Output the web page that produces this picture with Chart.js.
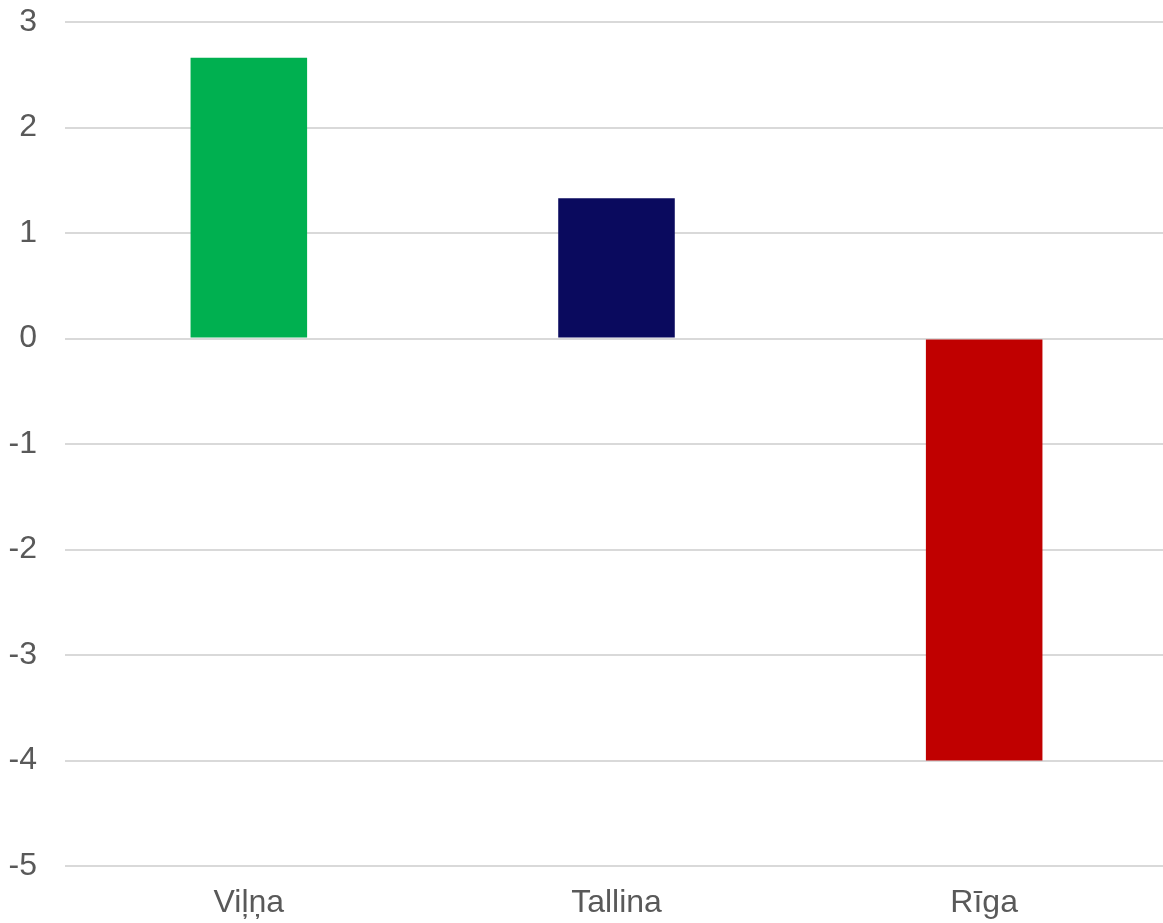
<!DOCTYPE html>
<html>
<head>
<meta charset="utf-8">
<script src="https://cdn.jsdelivr.net/npm/chart.js@4"></script>
<style>
    html, body { margin: 0; padding: 0; background: #ffffff; overflow: hidden; }
    #wrap { width: 1168px; height: 923px; }
</style>
</head>
<body>
<div id="wrap"><canvas id="chart"></canvas></div>
<script>
const categories = ["Viļņa", "Tallina", "Rīga"];
const values = [2.66, 1.33, -4.0];
const barColors = ["#00b050", "#0a0a5e", "#c00000"];
const yTicks = [3, 2, 1, 0, -1, -2, -3, -4, -5];

const ctx = document.getElementById("chart");

new Chart(ctx, {
    type: "bar",
    data: {
        labels: categories,
        datasets: [{
            data: values,
            backgroundColor: barColors,
            borderWidth: 0,
            categoryPercentage: 1,
            barPercentage: 0.317
        }]
    },
    options: {
        responsive: true,
        maintainAspectRatio: false,
        animation: false,
        layout: { padding: { top: 22, right: 0, bottom: 0, left: 0 } },
        plugins: {
            legend: { display: false },
            tooltip: { enabled: false }
        },
        scales: {
            x: {
                grid: { display: false },
                border: { display: false },
                ticks: {
                    color: "#595959",
                    font: { family: "Liberation Sans, Arial, sans-serif", size: 32 },
                    padding: 10,
                    maxRotation: 0
                },
                afterFit: scale => { scale.height = 57; }
            },
            y: {
                min: -5,
                max: 3,
                afterBuildTicks: scale => {
                    scale.ticks = yTicks.map(v => ({ value: v }));
                },
                grid: {
                    color: "#d9d9d9",
                    lineWidth: 2,
                    drawTicks: false
                },
                border: { display: false },
                ticks: {
                    color: "#595959",
                    font: { family: "Liberation Sans, Arial, sans-serif", size: 32 },
                    padding: 28
                },
                afterFit: scale => {
                    scale.width = 65;
                    scale.paddingTop = 0;
                    scale.paddingBottom = 0;
                }
            }
        }
    }
});
</script>
</body>
</html>
